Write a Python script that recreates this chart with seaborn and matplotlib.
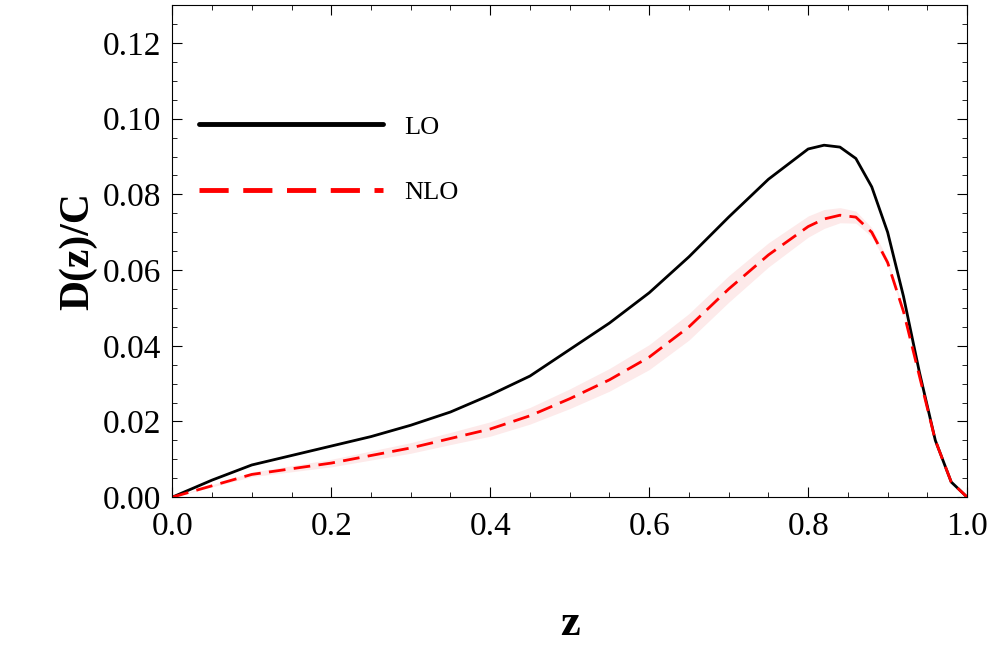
import matplotlib
matplotlib.use("Agg")
import matplotlib.pyplot as plt
import seaborn as sns
import numpy as np
import pandas as pd
from matplotlib.ticker import MultipleLocator

z = [0.0, 0.05, 0.1, 0.15, 0.2, 0.25, 0.3, 0.35, 0.4, 0.45, 0.5, 0.55, 0.6, 0.65, 0.7, 0.75, 0.8, 0.82, 0.84, 0.86, 0.88, 0.9, 0.92, 0.94, 0.96, 0.98, 1.0]
lo = [0.0, 0.0045, 0.0085, 0.011, 0.0135, 0.016, 0.019, 0.0225, 0.027, 0.032, 0.039, 0.046, 0.054, 0.0635, 0.074, 0.084, 0.092, 0.093, 0.0925, 0.0895, 0.082, 0.070, 0.053, 0.033, 0.015, 0.004, 0.0]
nlo = [0.0, 0.003, 0.006, 0.0075, 0.009, 0.011, 0.013, 0.0155, 0.018, 0.0215, 0.026, 0.031, 0.037, 0.045, 0.055, 0.064, 0.0715, 0.0735, 0.0745, 0.074, 0.070, 0.062, 0.049, 0.032, 0.015, 0.004, 0.0]
band = [0.0, 0.0003, 0.0006, 0.0008, 0.001, 0.0012, 0.0014, 0.0016, 0.0019, 0.0022, 0.0026, 0.003, 0.0033, 0.0035, 0.0035, 0.0032, 0.0028, 0.0025, 0.002, 0.0016, 0.0012, 0.0009, 0.0006, 0.0004, 0.0002, 0.0001, 0.0]

sns.set_style("ticks")
plt.rcParams['font.family'] = ['Liberation Serif', 'DejaVu Serif']
for k in ["text.color", "axes.labelcolor", "xtick.color", "ytick.color", "axes.edgecolor"]:
    plt.rcParams[k] = "black"

df = pd.DataFrame({"z": z, "LO": lo, "NLO": nlo})
fig = plt.figure(figsize=(9.96, 6.49), dpi=100)
ax = fig.add_axes([0.173, 0.234, 0.798, 0.758])
nl = np.array(nlo); b = np.array(band)
ax.fill_between(z, nl - b, nl + b, color="#fdeaea", lw=0)
sns.lineplot(data=df, x="z", y="LO", ax=ax, color="black", lw=2, label="LO")
sns.lineplot(data=df, x="z", y="NLO", ax=ax, color="red", lw=2, dashes=(6, 3), label="NLO")
ax.set_xlim(0, 1); ax.set_ylim(0, 0.13)
ax.xaxis.set_major_locator(MultipleLocator(0.2)); ax.xaxis.set_minor_locator(MultipleLocator(0.05))
ax.yaxis.set_major_locator(MultipleLocator(0.02)); ax.yaxis.set_minor_locator(MultipleLocator(0.005))
ax.set_xticklabels([f"{v:.1f}" for v in ax.get_xticks()])
ax.set_yticklabels([f"{v:.2f}" for v in ax.get_yticks()])
ax.tick_params(which="both", direction="in", top=True, right=True, labelsize=24)
ax.tick_params(axis="x", pad=10)
ax.tick_params(axis="y", pad=8)
ax.tick_params(which="major", length=7); ax.tick_params(which="minor", length=3.5)
ax.set_xlabel("z", fontsize=32, fontweight="bold", labelpad=45)
ax.set_ylabel("D(z)/C", fontsize=30, fontweight="bold")
leg = ax.legend(loc="upper left", bbox_to_anchor=(0.0, 0.83), frameon=False, fontsize=19,
                handlelength=7.0, handletextpad=0.8, labelspacing=1.6, borderaxespad=0.6)
for l in leg.get_lines():
    l.set_linewidth(3.5)
fig.savefig("out.png", dpi=100)
